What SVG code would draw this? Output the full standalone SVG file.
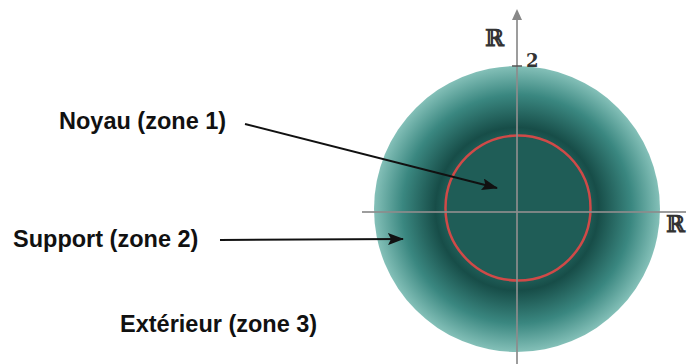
<svg xmlns="http://www.w3.org/2000/svg" width="688" height="364" viewBox="0 0 688 364">
<style>
.lbl{font-family:"Liberation Sans",Arial,sans-serif;font-weight:bold;font-size:23.5px;fill:#111}
.ax{stroke:#8c8c8c;stroke-width:2;fill:none;opacity:0.85}
.dbl{font-family:"DejaVu Serif","Liberation Serif",serif;font-size:23px;fill:#333;font-weight:bold}
.arr{stroke:#111;stroke-width:2;fill:none}
</style>
<defs>
<radialGradient id="teal" cx="517" cy="209" r="143" gradientUnits="userSpaceOnUse">
<stop offset="0" stop-color="#1f5d57"/>
<stop offset="0.5" stop-color="#1f5d57"/>
<stop offset="0.57" stop-color="#174d48"/>
<stop offset="0.8" stop-color="#3a8780"/>
<stop offset="1" stop-color="#84c0b8"/>
</radialGradient>
<marker id="ahb" viewBox="0 0 16 12" refX="15" refY="6" markerWidth="16" markerHeight="12" markerUnits="userSpaceOnUse" orient="auto">
<path d="M0,0 L16,6 L0,12 L3,6 z" fill="#111"/>
</marker>
</defs>
<g id="zones">
<circle id="support" cx="517" cy="209" r="143" fill="url(#teal)"/>
<circle id="noyau" cx="518" cy="208" r="72.5" fill="none" stroke="#d04a48" stroke-width="2.5"/>
</g>
<g id="axes">
<line class="ax" x1="362" y1="212" x2="686" y2="212"/>
<line class="ax" x1="517" y1="364" x2="517" y2="18"/>
<path d="M517,9 L512,20 L522,20 z" fill="#888"/>
<line x1="512" y1="66" x2="522" y2="66" stroke="#555" stroke-width="1.5"/>
<text class="dbl" x="526" y="67" style="font-size:18px">2</text>
<text class="dbl" x="485" y="46">ℝ</text>
<text class="dbl" x="666" y="232">ℝ</text>
</g>
<g id="labels">
<text class="lbl" x="59" y="129">Noyau (zone 1)</text>
<text class="lbl" x="13" y="247">Support (zone 2)</text>
<text class="lbl" x="120" y="332">Extérieur (zone 3)</text>
</g>
<g id="connectors">
<line class="arr" x1="245" y1="124" x2="497" y2="188" marker-end="url(#ahb)"/>
<line class="arr" x1="220" y1="240" x2="403" y2="239" marker-end="url(#ahb)"/>
</g>
</svg>
